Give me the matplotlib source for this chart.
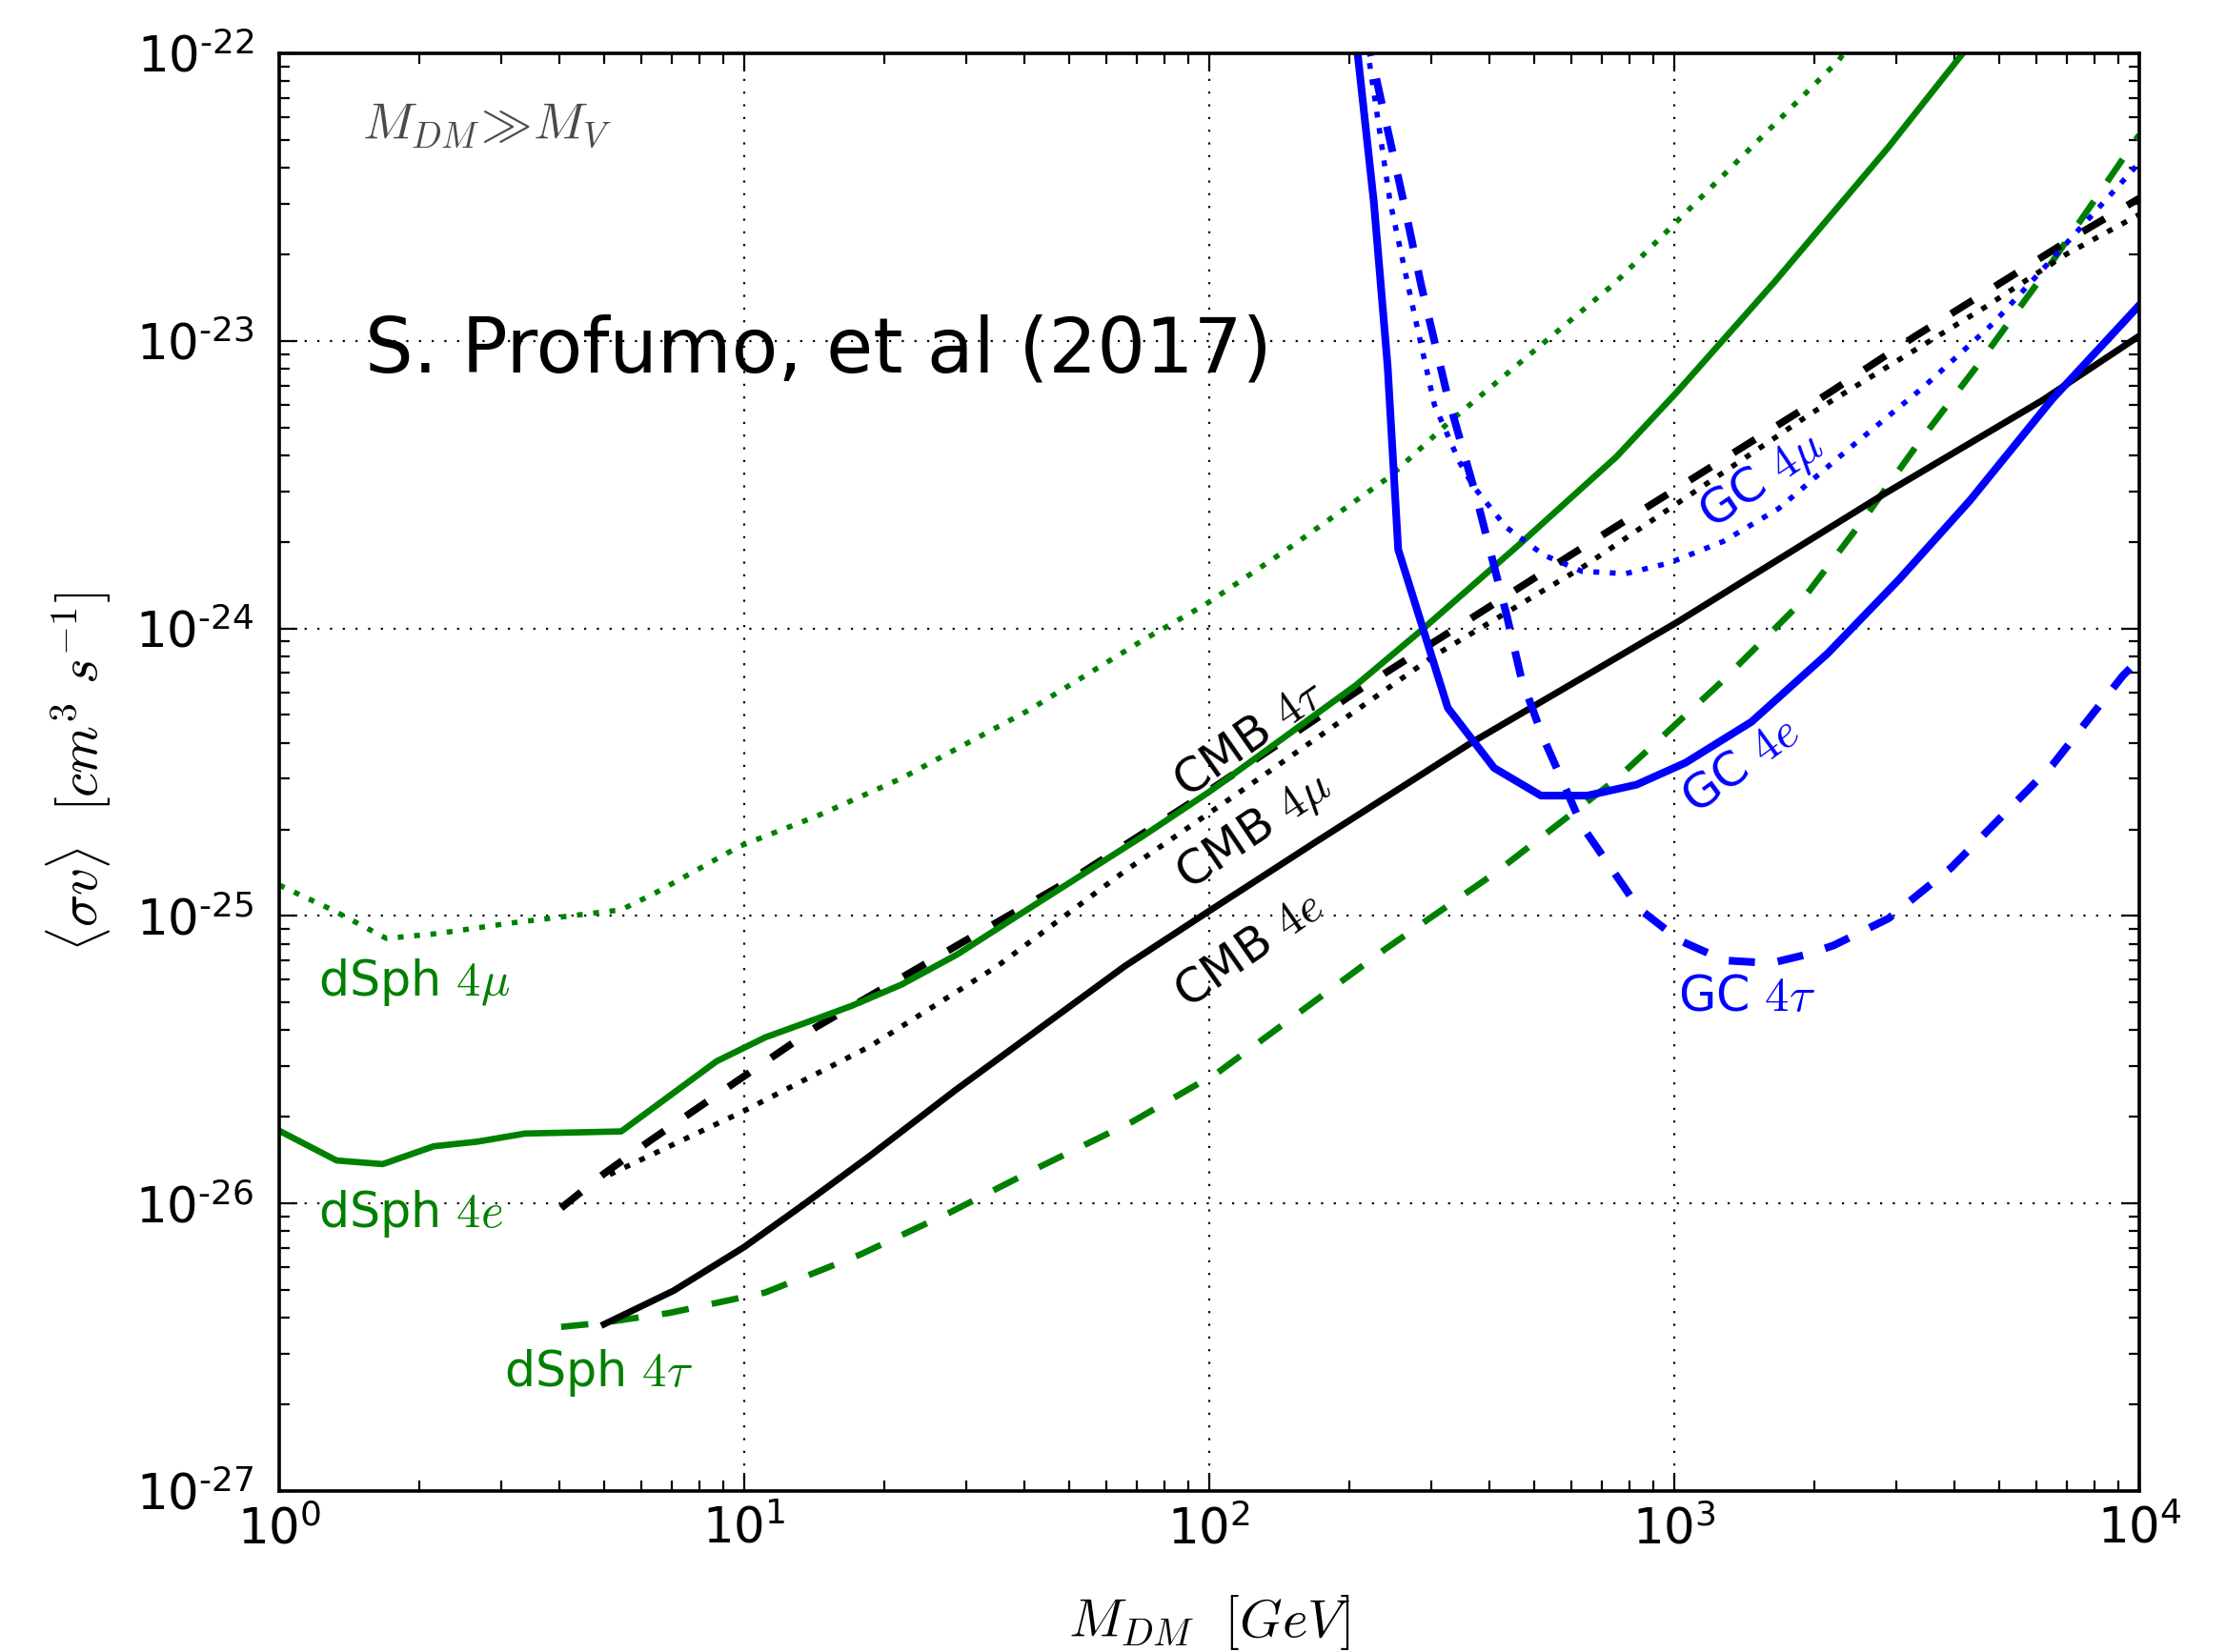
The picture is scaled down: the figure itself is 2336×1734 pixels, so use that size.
import math
import matplotlib
matplotlib.use("Agg")
import matplotlib.pyplot as plt
from matplotlib.ticker import FixedLocator, FuncFormatter, NullFormatter

# ---------------------------------------------
# Data (mass in GeV, <sigma v> in cm^3/s)
# ---------------------------------------------
dsph_4e_m = [1.0, 1.33, 1.67, 2.15, 2.67, 3.38, 5.44, 8.72, 11.1, 14.0, 17.0, 21.8,
             28.7, 38.5, 72.2, 100, 207, 286, 463, 751, 1014, 1290, 1642, 2884,
             4158, 4600]
dsph_4e_sv = [1.79e-26, 1.41e-26, 1.37e-26, 1.58e-26, 1.64e-26, 1.75e-26, 1.78e-26,
              3.12e-26, 3.78e-26, 4.33e-26, 4.86e-26, 5.77e-26, 7.34e-26, 9.95e-26,
              1.90e-25, 2.70e-25, 6.35e-25, 9.85e-25, 1.95e-24, 3.95e-24, 6.64e-24,
              1.03e-23, 1.6e-23, 4.7e-23, 9.92e-23, 1.2e-22]

dsph_4mu_m = [1.0, 1.30, 1.70, 2.19, 3.14, 5.44, 6.43, 9.80, 14.3, 21.8, 41.0, 72.2,
              98.1, 147, 245, 330, 743, 1278, 2262, 2500]
dsph_4mu_sv = [1.28e-25, 1.05e-25, 8.35e-26, 8.68e-26, 9.44e-26, 1.05e-25, 1.20e-25,
               1.75e-25, 2.22e-25, 3.01e-25, 5.2e-25, 9.12e-25, 1.21e-24, 1.88e-24,
               3.38e-24, 5.26e-24, 1.58e-23, 3.78e-23, 9.48e-23, 1.2e-22]

dsph_4tau_m = [4.04, 5.0, 6.91, 11.1, 17.8, 27.7, 43.2, 68.6, 104.6, 239, 412, 751,
               1253, 1854, 2582, 3351, 4520, 6045, 8023, 1e4]
dsph_4tau_sv = [3.72e-27, 3.85e-27, 4.16e-27, 4.9e-27, 6.65e-27, 9.3e-27, 1.34e-26,
                1.93e-26, 2.86e-26, 7.66e-26, 1.41e-25, 2.99e-25, 6.43e-25, 1.21e-24,
                2.45e-24, 4.41e-24, 8.33e-24, 1.59e-23, 3.09e-23, 5.2e-23]

cmb_4tau_m = [4.04, 5.0, 6.3, 9.41, 14.3, 51.3, 93.6, 218, 599, 2140, 3273, 4967,
              7534, 1e4]
cmb_4tau_sv = [9.64e-27, 1.27e-26, 1.66e-26, 2.59e-26, 4.11e-26, 1.36e-25, 2.54e-25,
               6.36e-25, 1.80e-24, 6.55e-24, 1.03e-23, 1.57e-23, 2.39e-23, 3.13e-23]

cmb_4mu_m = [5.14, 9.89, 18.6, 35.0, 65.8, 113.8, 304.6, 642, 977, 1979, 3027, 4628,
             6963, 1e4]
cmb_4mu_sv = [1.26e-26, 2.08e-26, 3.51e-26, 6.68e-26, 1.43e-25, 2.63e-25, 8.03e-25,
              1.65e-24, 2.61e-24, 5.62e-24, 8.55e-24, 1.30e-23, 2.0e-23, 2.75e-23]

cmb_4e_m = [5.0, 7.05, 10.0, 13.3, 18.6, 28.4, 43.2, 65.8, 100, 167, 365, 1014, 2824,
            6180, 1e4]
cmb_4e_sv = [3.8e-27, 4.97e-27, 7.05e-27, 9.8e-27, 1.46e-26, 2.47e-26, 4.06e-26,
             6.68e-26, 1.04e-25, 1.78e-25, 3.99e-25, 1.05e-24, 2.93e-24, 6.2e-24,
             1.04e-23]

gc_4e_m = [206, 226, 242, 255, 326, 410, 517, 650, 830, 1058, 1466, 2138, 3045,
           4329, 6500, 1e4]
gc_4e_sv = [1.2e-22, 3.04e-23, 8.16e-24, 1.88e-24, 5.29e-25, 3.27e-25, 2.62e-25,
            2.62e-25, 2.86e-25, 3.41e-25, 4.73e-25, 8.18e-25, 1.48e-24, 2.79e-24,
            6.27e-24, 1.33e-23]

gc_4mu_m = [216, 245, 273, 305, 345, 370, 435, 524, 633, 786, 977, 1278, 1677, 2390,
            3431, 4852, 6750, 9099, 1e4]
gc_4mu_sv = [1.2e-22, 3.04e-23, 1.35e-23, 6.0e-24, 3.8e-24, 3.12e-24, 2.25e-24,
             1.80e-24, 1.58e-24, 1.55e-24, 1.69e-24, 2.01e-24, 2.61e-24, 4.25e-24,
             6.89e-24, 1.15e-23, 2.06e-23, 3.51e-23, 4.16e-23]

gc_4tau_m = [217, 262, 286, 324, 376, 437, 469, 520, 567, 633, 729, 840, 1030, 1284,
             1613, 1934, 2204, 2891, 3940, 6500, 9231, 1e4]
gc_4tau_sv = [1.2e-22, 3.04e-23, 1.55e-23, 6.63e-24, 2.84e-24, 1.1e-24, 6.72e-25,
              4.25e-25, 3.10e-25, 2.06e-25, 1.48e-25, 1.06e-25, 8.2e-26, 7.0e-26,
              6.85e-26, 7.35e-26, 7.9e-26, 9.80e-26, 1.47e-25, 3.34e-25, 6.86e-25,
              7.8e-25]

GREEN = "#008000"
BLUE = "#0000ff"

DOT = (0, (1.1, 2.0))


def tick_fmt(v, pos):
    exp = int(round(math.log10(v)))
    if exp < 0:
        # short hyphen in the exponent, like the original
        return "$10^{\u2010%d}$" % (-exp)
    return "$10^{%d}$" % exp


def minor_positions(lo, hi):
    out = []
    for e in range(lo, hi):
        for k in range(2, 10):
            out.append(k * 10.0 ** e)
    return out


def main():
    plt.rcParams["mathtext.fontset"] = "dejavusans"
    plt.rcParams["font.family"] = ["DejaVu Sans"]

    fig = plt.figure(figsize=(23.36, 17.34), dpi=100)
    fig.subplots_adjust(left=0.1254, right=0.9610, bottom=0.0975, top=0.9677)
    ax = fig.add_subplot(111)

    # -----------------------------------------
    # Curves
    # -----------------------------------------
    ax.plot(dsph_4mu_m, dsph_4mu_sv, color=GREEN, lw=4.0, ls=DOT)
    ax.plot(dsph_4tau_m, dsph_4tau_sv, color=GREEN, lw=4.8, ls=(0, (4.3, 3.7)))
    ax.plot(cmb_4e_m, cmb_4e_sv, color="k", lw=5.0)
    ax.plot(cmb_4mu_m, cmb_4mu_sv, color="k", lw=4.0, ls=DOT)
    ax.plot(cmb_4tau_m, cmb_4tau_sv, color="k", lw=5.5, ls=(0, (3.5, 3.6)))
    ax.plot(dsph_4e_m, dsph_4e_sv, color=GREEN, lw=4.8)
    ax.plot(gc_4mu_m, gc_4mu_sv, color=BLUE, lw=4.0, ls=DOT)
    ax.plot(gc_4tau_m, gc_4tau_sv, color=BLUE, lw=5.8, ls=(0, (3.4, 3.0)))
    ax.plot(gc_4e_m, gc_4e_sv, color=BLUE, lw=5.8)

    ax.set_xscale("log")
    ax.set_yscale("log")
    ax.set_xlim(1, 1e4)
    ax.set_ylim(1e-27, 1e-22)

    # -----------------------------------------
    # Ticks, grid, spines
    # -----------------------------------------
    ax.xaxis.set_major_locator(FixedLocator([10.0 ** e for e in range(0, 5)]))
    ax.yaxis.set_major_locator(FixedLocator([10.0 ** e for e in range(-27, -21)]))
    ax.xaxis.set_minor_locator(FixedLocator(minor_positions(0, 4)))
    ax.yaxis.set_minor_locator(FixedLocator(minor_positions(-27, -22)))
    ax.xaxis.set_major_formatter(FuncFormatter(tick_fmt))
    ax.yaxis.set_major_formatter(FuncFormatter(tick_fmt))
    ax.xaxis.set_minor_formatter(NullFormatter())
    ax.yaxis.set_minor_formatter(NullFormatter())

    ax.tick_params(which="both", direction="in", top=True, right=True, width=1.6)
    ax.tick_params(which="major", length=14, labelsize=37)
    ax.tick_params(which="minor", length=8)
    ax.tick_params(axis="x", which="major", pad=11)
    ax.tick_params(axis="y", which="major", pad=19)

    ax.grid(True, which="major", color="k", lw=1.6, ls=(0, (1.0, 5.0)))
    ax.set_axisbelow(True)
    for sp in ax.spines.values():
        sp.set_linewidth(2.6)

    # -----------------------------------------
    # Axis labels
    # -----------------------------------------
    xl = ax.set_xlabel(r"$M_{DM}\ \ [GeV]$", fontsize=41, va="center")
    xl.set_math_fontfamily("cm")
    ax.xaxis.set_label_coords(0.5, -0.0915)
    yl = ax.set_ylabel(r"$\langle\sigma v\rangle\ \ [cm^3\ s^{-1}]$", fontsize=41, va="center")
    yl.set_math_fontfamily("cm")
    ax.yaxis.set_label_coords(-0.108, 0.5)

    # -----------------------------------------
    # Annotations
    # -----------------------------------------
    t = ax.text(0.0446, 0.950, r"$M_{DM}\!\gg\!M_V$", transform=ax.transAxes,
                fontsize=38.5, color="#4a4a4a", ha="left", va="center")
    t.set_math_fontfamily("cm")

    ax.text(0.0461, 0.7932, "S. Profumo, et al (2017)", transform=ax.transAxes,
            fontsize=57.5, color="k", ha="left", va="center")

    labels = [
        (0.021, 0.3539, r"dSph $4\mu$", GREEN),
        (0.021, 0.1928, r"dSph $4e$", GREEN),
        (0.1209, 0.0822, r"dSph $4\tau$", GREEN),
        (0.752, 0.3433, r"GC $4\tau$", BLUE),
    ]
    for x, y, s, c in labels:
        t = ax.text(x, y, s, transform=ax.transAxes, fontsize=36.5, color=c,
                    ha="left", va="center")
        t.set_math_fontfamily("cm")

    rot_labels = [
        (0.5215, 0.5232, r"CMB $4\tau$", "k", 35),
        (0.524, 0.459, r"CMB $4\mu$", "k", 34),
        (0.5215, 0.3761, r"CMB $4e$", "k", 35),
        (0.7973, 0.7025, r"GC $4\mu$", BLUE, 34),
        (0.7856, 0.5046, r"GC $4e$", BLUE, 36),
    ]
    for x, y, s, c, r in rot_labels:
        t = ax.text(x, y, s, transform=ax.transAxes, fontsize=36, color=c,
                    ha="center", va="center", rotation=r, rotation_mode="anchor")
        t.set_math_fontfamily("cm")

    fig.savefig("out.png", dpi=100)
    plt.close(fig)


if __name__ == "__main__":
    main()
